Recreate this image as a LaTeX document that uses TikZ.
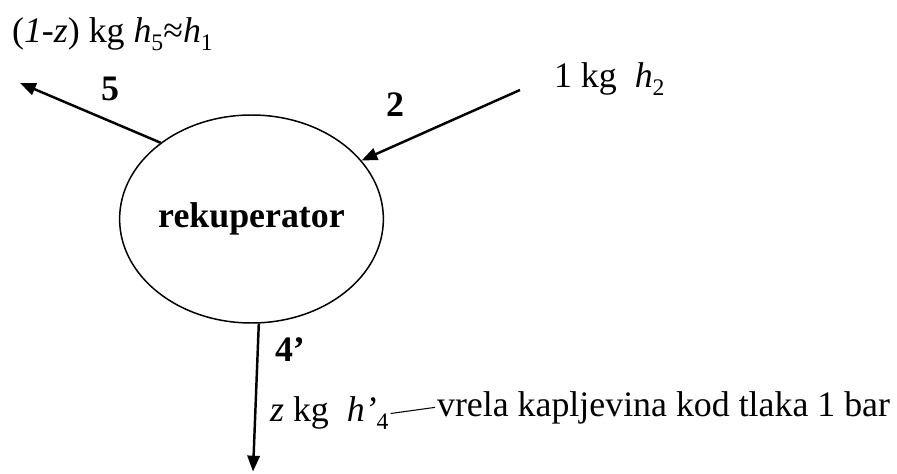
\documentclass[tikz,border=0pt]{standalone}
\usepackage{fontspec}
\setmainfont{Liberation Serif}[ItalicFont={Liberation Serif Italic},BoldFont={Liberation Serif Bold}]
\usetikzlibrary{shapes.geometric,arrows.meta}
\newcommand{\idx}[1]{\raisebox{-0.22em}{\fontsize{13.5}{14}\selectfont #1}}

\begin{document}
\begin{tikzpicture}[font=\fontsize{20.4}{24}\selectfont,
  flow/.style={-{Triangle[length=9pt,width=7pt]}, line width=1.4pt},
  lbl/.style={inner sep=1pt, anchor=base west},
  num/.style={font=\fontsize{20.4}{24}\selectfont\bfseries}]

\useasboundingbox (0,0) rectangle (17.94,9.46);

% Nodes
\node[draw, ellipse, line width=0.85pt, minimum width=4.62cm, minimum height=4.16cm, inner sep=0pt, num] (rek) at (5.03,5.08) {rekuperator};
\coordinate (out5) at (0.4,7.8);
\coordinate (in2) at (10.4,7.66);
\coordinate (out4) at (5.06,0.03);

\node[num] (n5) at (2.2,7.69) {5};
\node[num] (n2) at (7.9,7.36) {2};
\node[num] (n4) at (5.8,2.46) {4’};

\node[lbl] (top5) at (0.2,8.6) {(\textit{1-z}) kg \textit{h}\idx{5}≈\textit{h}\idx{1}};
\node[lbl] (top2) at (11.04,7.7) {1 kg\ \ \textit{h}\idx{2}};
\node[lbl] (zkg) at (5.36,1.02) {\textit{z} kg\ \ \textit{h’}\idx{4}};
\node[lbl] (vrela) at (8.7,1.14) {vrela kapljevina kod tlaka 1 bar};

% Edges
\draw[flow] (rek.140.6) -- (out5);
\draw[flow] (in2) -- (rek.28.7);
\draw[flow] (rek.-86) -- (out4);
\draw[line width=0.6pt] (zkg.east) -- (vrela.west);

\end{tikzpicture}
\end{document}
